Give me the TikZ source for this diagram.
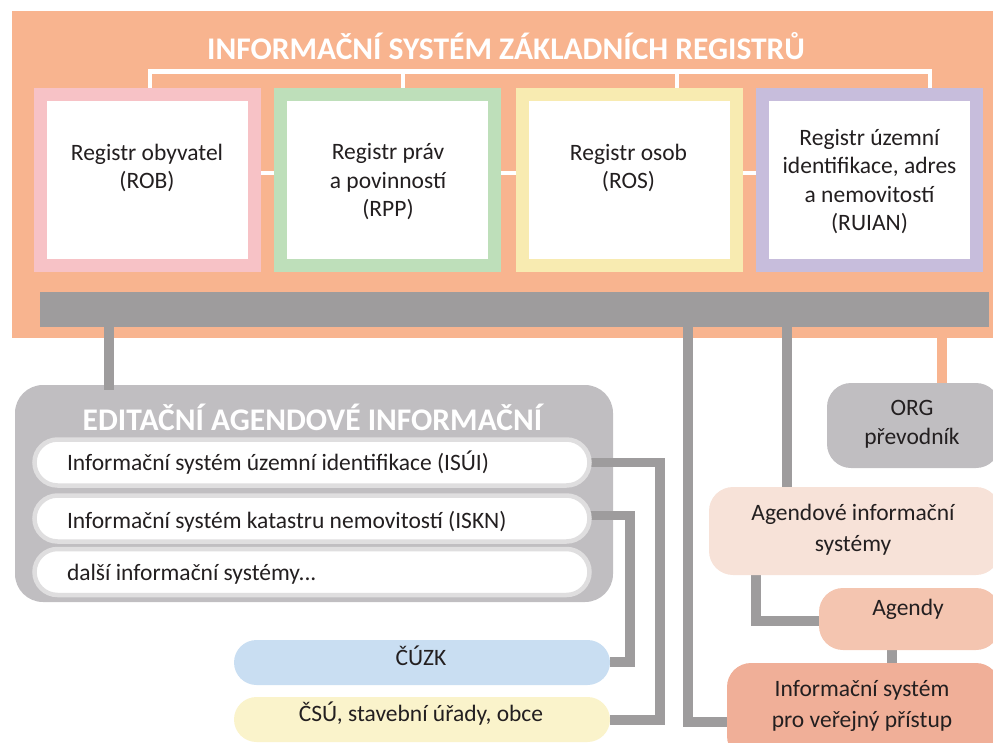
\documentclass[tikz,border=0pt]{standalone}
\usepackage{fontspec}
\setmainfont{Carlito}
\usetikzlibrary{shapes.misc}
\pgfdeclarelayer{back}
\pgfdeclarelayer{mid}
\pgfsetlayers{back,mid,main}
\definecolor{orangebg}{HTML}{F8B48F}
\definecolor{ink}{HTML}{231F20}
\definecolor{bargray}{HTML}{9E9C9D}
\definecolor{boxgray}{HTML}{C0BEC1}
\definecolor{pillrim}{HTML}{DFDEDF}
\definecolor{fpink}{HTML}{F7C2C6}
\definecolor{fgreen}{HTML}{BEDFBA}
\definecolor{fyellow}{HTML}{F8EBB1}
\definecolor{flav}{HTML}{C7BDDC}
\definecolor{lblue}{HTML}{C9DEF2}
\definecolor{lyellow}{HTML}{FAF3CB}
\definecolor{peach}{HTML}{F7E2D8}
\definecolor{salmon}{HTML}{F4C5B0}
\definecolor{coral}{HTML}{F0AF98}
\begin{document}
\begin{tikzpicture}[x=1pt,y=-1pt,
  every node/.style={inner sep=0pt, outer sep=0pt},
  body/.style={font=\fontsize{23.5}{28.5}\selectfont, text=ink, align=center},
  head/.style={font=\fontsize{31.5}{36}\selectfont\bfseries, text=white},
  regbox/.style={line width=13pt, fill=white, minimum width=214pt, minimum height=171pt},
  pill/.style={rounded rectangle, draw=pillrim, line width=4.5pt, fill=white, minimum width=555pt, minimum height=46pt},
  oval/.style={rounded rectangle, minimum width=376pt, minimum height=45pt},
  soft/.style={rounded corners=24pt},
  wire/.style={draw=bargray, line width=9.5pt},
  owire/.style={draw=orangebg, line width=10pt},
  wlink/.style={draw=white, line width=4.5pt},
]
\useasboundingbox (0,0) rectangle (993,742);
\clip (0,0) rectangle (993,742);

% backgrounds
\begin{pgfonlayer}{back}
\node[fill=orangebg, minimum width=988pt, minimum height=327pt] (bg) at (506,174.5) {};
\node[fill=boxgray, rounded corners=28pt, minimum width=598pt, minimum height=217pt] (eais) at (314,493.5) {};
\end{pgfonlayer}

% title
\node[head, anchor=base] (title) at (506,59) {INFORMAČNÍ SYSTÉM ZÁKLADNÍCH REGISTRŮ};

% registry boxes
\node[regbox, draw=fpink] (rob) at (147.5,180) {};
\node[regbox, draw=fgreen] (rpp) at (387,180) {};
\node[regbox, draw=fyellow] (ros) at (629,180) {};
\node[regbox, draw=flav] (ruian) at (869,180) {};
\node[body] (robt) at (147,168) {Registr obyvatel\\(ROB)};
\node[body] (rppt) at (388,182) {Registr práv\\a povinností\\(RPP)};
\node[body] (rost) at (628.5,168) {Registr osob\\(ROS)};
\node[body] (ruiant) at (869.5,181.5) {Registr územní\\identifikace, adres\\a nemovitostí\\(RUIAN)};

% gray bar
\node[fill=bargray, minimum width=949pt, minimum height=35pt] (bar) at (514.5,309.5) {};

% editing agenda systems
\node[head, anchor=base] (eaist) at (312.5,430) {EDITAČNÍ AGENDOVÉ INFORMAČNÍ};
\node[pill] (isui) at (312,462.5) {};
\node[pill] (iskn) at (312,518.5) {};
\node[pill] (dalsi) at (312,572) {};
\node[body, anchor=base west] (isuit) at (67,470) {Informační systém územní identifikace (ISÚI)};
\node[body, anchor=base west] (isknt) at (67,528) {Informační systém katastru nemovitostí (ISKN)};
\node[body, anchor=base west] (dalsit) at (67,580) {další informační systémy...};

% bottom left ovals
\node[oval, fill=lblue] (cuzk) at (422,662.5) {};
\node[oval, fill=lyellow] (csu) at (422,719.5) {};
\node[body, anchor=base] (cuzkt) at (421,665) {ČÚZK};
\node[body, anchor=base] (csut) at (421,721.5) {ČSÚ, stavební úřady, obce};

% right side boxes
\node[fill=boxgray, soft, minimum width=173pt, minimum height=85pt] (org) at (913.5,425.5) {};
\node[body, font=\fontsize{23.5}{29}\selectfont] (orgt) at (912,424) {ORG\\převodník};
\node[fill=peach, soft, minimum width=291pt, minimum height=88pt] (ais) at (854.5,531) {};
\node[body, font=\fontsize{23.5}{31.5}\selectfont] (aist) at (853,529.5) {Agendové informační\\systémy};
\node[fill=salmon, soft, minimum width=181pt, minimum height=62pt] (agendy) at (909.5,619) {};
\node[body, anchor=base] (agendyt) at (908,615) {Agendy};
\node[fill=coral, soft, minimum width=273pt, minimum height=97pt] (isvp) at (863.5,711.5) {};
\node[body, font=\fontsize{23.5}{31.3}\selectfont] (isvpt) at (862,706) {Informační systém\\pro veřejný přístup};

% anchor coordinates for connectors
\coordinate (b1) at (150,71.5);
\coordinate (b2) at (403,71.5);
\coordinate (b3) at (677,71.5);
\coordinate (b4) at (930,71.5);
\coordinate (k1) at (109,0);
\coordinate (k2) at (688,722);
\coordinate (k3) at (787,0);
\coordinate (k4) at (942,0);
\coordinate (k5) at (756,621);
\coordinate (k6) at (892,0);
\coordinate (k7) at (660,720);
\coordinate (k8) at (630,662);

\begin{pgfonlayer}{mid}
% white bracket above registries
\draw[wlink] (rob.north -| b1) -- (b1) -- (b4) -- (ruian.north -| b4);
\draw[wlink] (b2) -- (rpp.north -| b2);
\draw[wlink] (b3) -- (ros.north -| b3);
% white links between registries
\draw[wlink] ([yshift=7pt]rob.east) -- ([yshift=7pt]rpp.west);
\draw[wlink] ([yshift=7pt]rpp.east) -- ([yshift=7pt]ros.west);
\draw[wlink] ([yshift=7pt]ros.east) -- ([yshift=7pt]ruian.west);
% gray connectors
\draw[wire] (bar.south -| k1) -- ([yshift=-5pt]eais.north -| k1);
\draw[wire] (bar.south -| k2) |- (isvp.west |- k2);
\draw[wire] (bar.south -| k3) -- (ais.north -| k3);
\draw[owire] (bg.south -| k4) -- (org.north -| k4);
\draw[wire] (ais.south -| k5) |- (agendy.west |- k5);
\draw[wire] (agendy.south -| k6) -- (isvp.north -| k6);
\draw[wire] (isui.east) -| (k7) -- (csu.east |- k7);
\draw[wire] (iskn.east |- 0,515.5) -| (k8) -- (cuzk.east |- k8);
\end{pgfonlayer}
\end{tikzpicture}
\end{document}
